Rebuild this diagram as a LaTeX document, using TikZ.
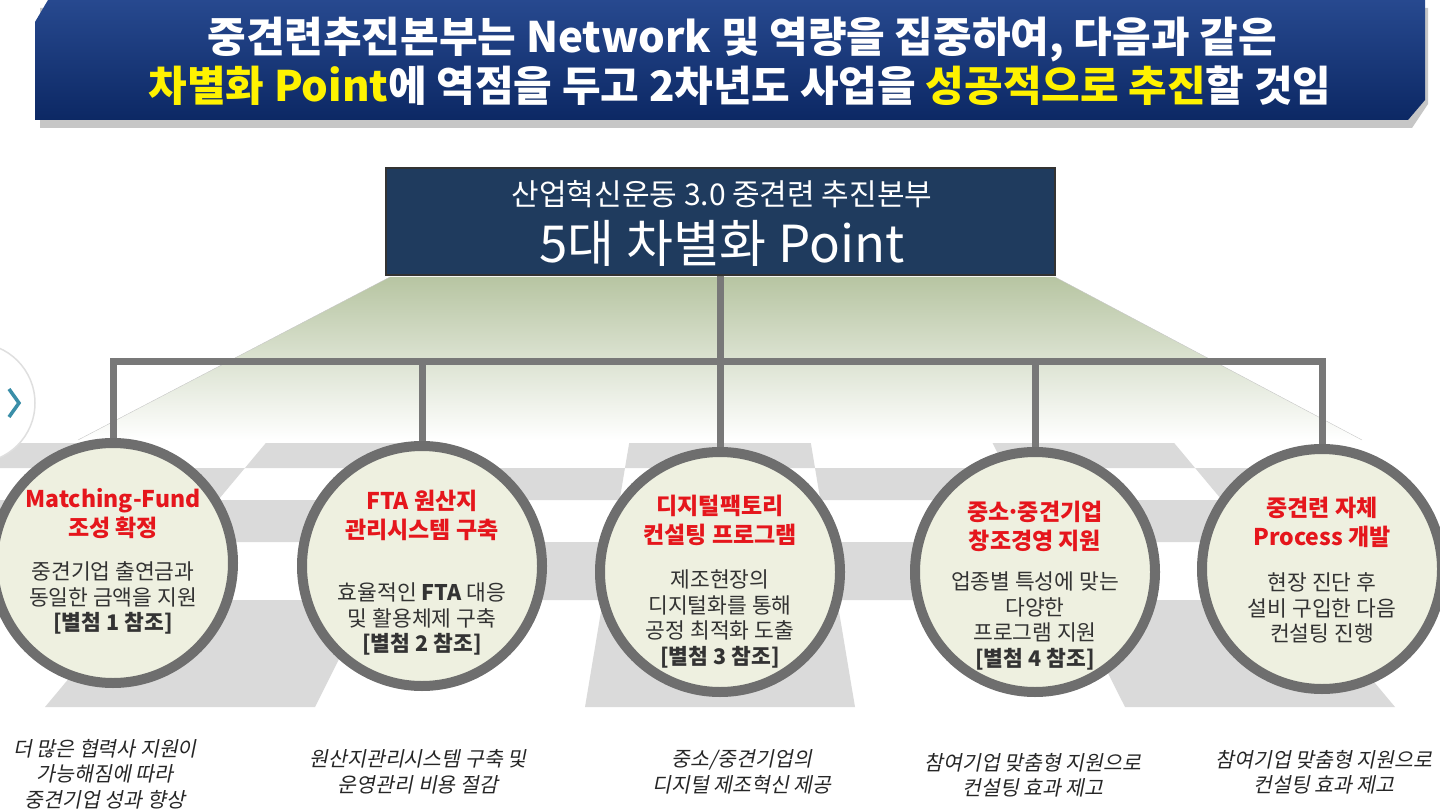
\documentclass[tikz,border=0pt]{standalone}
\usepackage{fontspec}
\setmainfont{Noto Sans CJK KR}
\newfontfamily\krslant[FakeSlant=0.2]{Noto Sans CJK KR}
\usetikzlibrary{positioning,calc}

\definecolor{bannertop}{HTML}{27498F}
\definecolor{bannerbot}{HTML}{0C2864}
\definecolor{boxnavy}{HTML}{1F3B5E}
\definecolor{linkgray}{HTML}{787878}
\definecolor{ringgray}{HTML}{6E6E6E}
\definecolor{disc}{HTML}{EEF0E0}
\definecolor{sage}{HTML}{B7C5A2}
\definecolor{tilegray}{HTML}{DADADA}
\definecolor{hired}{HTML}{E5161C}
\definecolor{bodygray}{HTML}{333333}
\definecolor{hiyellow}{HTML}{FFF200}
\definecolor{navteal}{HTML}{3A8EA8}

\tikzset{
  point/.style={circle, draw=ringgray, line width=10pt, fill=disc, minimum size=240pt, inner sep=0pt},
  link/.style={draw=linkgray, line width=7pt},
  ptitle/.style={text=hired, font=\fontsize{23}{29}\selectfont\bfseries, align=center},
  pbody/.style={text=bodygray, font=\fontsize{21.5}{25.5}\selectfont, align=center},
  effect/.style={text=black!85, font=\krslant\fontsize{20.5}{25.5}\selectfont, align=center},
  tile/.style={fill=tilegray}
}

\begin{document}
\begin{tikzpicture}[x=1pt,y=-1pt]
\useasboundingbox (0,0) rectangle (1440,810);
\clip (0,0) rectangle (1440,810);

% banner
\fill[gray!45] (40,8) -- (1428,8) -- (1428,104) -- (1412,128) -- (40,128) -- cycle;
\shade[top color=bannertop, bottom color=bannerbot] (48,0) -- (1425,0) -- (1425,100) -- (1408,120) -- (35,120) -- (35,22) -- cycle;
\node[text=white, font=\fontsize{42}{46}\selectfont\bfseries] (head1) at (742,40) {중견련추진본부는 Network 및 역량을 집중하여, 다음과 같은};
\node[text=white, font=\fontsize{42}{46}\selectfont\bfseries] (head2) at (740,86) {{\color{hiyellow}차별화 Point}에 역점을 두고 2차년도 사업을 {\color{hiyellow}성공적으로 추진}할 것임};

% fan under the title
\shade[top color=sage, bottom color=white] (390,277) -- (1055,277) -- (1362,440) -- (78,440) -- cycle;
\draw[gray!45] (390,277) -- (78,440) (1055,277) -- (1362,440);

% floor
\foreach \i/\ya/\yb in {0/443/468,1/468/500,2/500/542,3/542/600,4/600/707} {
  \foreach \k in {-4,...,3} {
    \pgfmathtruncatemacro\odd{mod(\i+\k+10,2)}
    \pgfmathsetmacro\fa{(\ya+100)/807}
    \pgfmathsetmacro\fb{(\yb+100)/807}
    \ifnum\odd=0
      \fill[tile] ({720+\fa*(270*\k-135)},\ya) -- ({720+\fa*(270*\k+135)},\ya)
        -- ({720+\fb*(270*\k+135)},\yb) -- ({720+\fb*(270*\k-135)},\yb) -- cycle;
    \fi
  }
}

% title box
\node[draw=black!80, line width=1.5pt, fill=boxnavy, minimum width=669pt, minimum height=107pt] (title) at (720.5,221.5) {};
\node[text=white, font=\fontsize{30}{34}\selectfont] (sub) at (722,194) {산업혁신운동 3.0 중견련 추진본부};
\node[text=white, font=\fontsize{51}{56}\selectfont] (main) at (722,243) {5대 차별화 Point};

% points
\node[point] (p1) at (113,563) {};
\node[point] (p2) at (422,566) {};
\node[point] (p3) at (720,572) {};
\node[point] (p4) at (1035,572) {};
\node[point] (p5) at (1322,569) {};

\coordinate (hub) at (720,361);
\draw[link] (title.south) -- (title.south |- hub);
\draw[link] (p1.north) |- (hub) -| (p5.north);
\draw[link] (p2.north) -- (p2.north |- hub);
\draw[link] (p3.north) -- (p3.north |- hub);
\draw[link] (p4.north) -- (p4.north |- hub);

\node[ptitle] (p1t) at (113,514) {Matching-Fund\\조성 확정};
\node[pbody] (p1b) at (113,598) {중견기업 출연금과\\동일한 금액을 지원\\\textbf{[별첨 1 참조]}};
\node[ptitle] (p2t) at (422,515) {FTA 원산지\\관리시스템 구축};
\node[pbody] (p2b) at (422,619) {효율적인 \textbf{FTA} 대응\\및 활용체제 구축\\\textbf{[별첨 2 참조]}};
\node[ptitle] (p3t) at (720,520) {디지털팩토리\\컨설팅 프로그램};
\node[pbody] (p3b) at (720,619) {제조현장의\\디지털화를 통해\\공정 최적화 도출\\\textbf{[별첨 3 참조]}};
\node[ptitle] (p4t) at (1035,526) {중소\kern-3pt·\kern-3pt중견기업\\창조경영 지원};
\node[pbody] (p4b) at (1035,621) {업종별 특성에 맞는\\다양한\\프로그램 지원\\\textbf{[별첨 4 참조]}};
\node[ptitle] (p5t) at (1322,522) {중견련 자체\\Process 개발};
\node[pbody] (p5b) at (1322,608) {현장 진단 후\\설비 구입한 다음\\컨설팅 진행};

% effects
\node[effect] (e1) at (105,774) {더 많은 협력사 지원이\\가능해짐에 따라\\중견기업 성과 향상};
\node[effect] (e2) at (418,772) {원산지관리시스템 구축 및\\운영관리 비용 절감};
\node[effect] (e3) at (742,772) {중소/중견기업의\\디지털 제조혁신 제공};
\node[effect] (e4) at (1033,775) {참여기업 맞춤형 지원으로\\컨설팅 효과 제고};
\node[effect] (e5) at (1324,772) {참여기업 맞춤형 지원으로\\컨설팅 효과 제고};

% slide button
\draw[gray!25, fill=white, line width=1.5pt] (-25,403) circle[radius=60];
\draw[navteal, line width=3.5pt] (9,389) -- (19,403) -- (9,417);
\end{tikzpicture}
\end{document}
